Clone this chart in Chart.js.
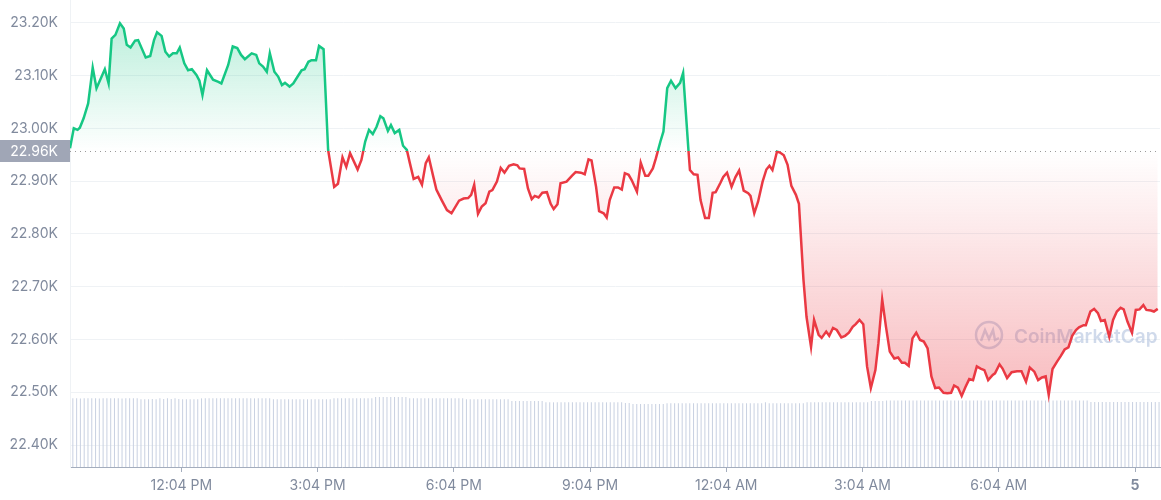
<!DOCTYPE html>
<html>
<head>
<meta charset="utf-8">
<script src="https://cdn.jsdelivr.net/npm/chart.js@4/dist/chart.umd.min.js"></script>
<style>
  html, body { margin: 0; padding: 0; background: #fff; }
  canvas { display: block; }
</style>
</head>
<body>
<canvas id="priceChart" width="1161" height="500"></canvas>
<script>
// minutes after 9:37 AM, price in USD
const minutes = [
  0,5,10,13,18,24,30,35,46,51,55,60,66,71,75,80,86,90,100,106,
  111,115,121,126,131,136,141,145,151,156,161,167,171,175,181,189,196,200,209,215,
  221,226,231,240,246,250,255,260,264,270,275,280,284,290,295,302,306,310,315,319,
  325,329,335,341,349,354,360,365,370,380,385,390,395,400,405,410,414,420,424,429,
  435,440,445,449,454,460,465,470,474,480,484,491,498,504,514,520,526,530,534,539,
  544,549,554,558,564,569,574,580,586,591,594,600,605,610,614,619,624,630,635,639,
  644,648,656,663,668,675,680,685,689,695,699,705,709,713,719,724,729,733,738,742,
  749,754,760,764,770,774,780,784,789,794,800,806,810,817,819,824,829,833,839,844,
  849,853,859,863,868,874,879,884,890,896,899,904,909,915,920,924,928,934,938,943,
  948,953,959,963,969,973,979,983,989,993,999,1003,1008,1013,1019,1024,1029,1034,1038,1043,
  1048,1053,1058,1064,1068,1073,1078,1083,1089,1094,1099,1103,1108,1113,1118,1123,1128,1133,1138,1143,
  1148,1154,1159,1164,1168,1173,1178,1183,1188,1193,1198,1203,1208,1213,1219,1222,1228,1232,1238,1244,
  1251,1257,1263,1268,1274,1279,1284,1289,1293,1298,1304,1309,1314,1319,1324,1329,1333,1339,1342,1348,
  1353,1358,1362,1367,1373,1378,1383,1388,1392,1397,1403,1408,1413,1418,1422,1428,1432,1437
];
const prices = [
  22962,23000,22997,23001,23019,23047,23115,23076,23112,23085,23170,23177,23199,23189,23158,23153,23166,23167,23134,23137,
  23167,23182,23175,23145,23136,23142,23142,23153,23123,23110,23112,23101,23090,23063,23110,23092,23088,23085,23120,23155,
  23152,23139,23131,23142,23139,23123,23117,23107,23142,23107,23098,23082,23086,23079,23085,23101,23110,23112,23126,23129,
  23129,23156,23150,22959,22889,22895,22945,22927,22953,22922,22940,22975,22997,22989,23003,23023,23019,22995,23006,22991,
  22997,22967,22959,22934,22904,22908,22893,22934,22945,22908,22884,22864,22845,22839,22863,22867,22868,22874,22893,22838,
  22852,22858,22880,22883,22899,22925,22916,22929,22932,22930,22924,22923,22886,22866,22872,22869,22878,22879,22857,22847,
  22856,22896,22899,22910,22917,22916,22913,22941,22939,22889,22843,22839,22831,22864,22888,22888,22884,22915,22912,22902,
  22880,22935,22910,22910,22924,22943,22975,22994,23076,23090,23076,23086,23105,22959,22921,22913,22912,22864,22830,22830,
  22878,22879,22896,22908,22916,22889,22907,22920,22882,22877,22872,22839,22861,22899,22922,22929,22921,22956,22954,22949,
  22931,22891,22874,22857,22713,22643,22586,22637,22609,22603,22615,22607,22622,22618,22604,22607,22613,22624,22629,22637,
  22629,22549,22508,22542,22593,22676,22624,22577,22564,22566,22556,22556,22550,22602,22613,22599,22596,22583,22530,22508,
  22509,22499,22498,22499,22513,22509,22493,22510,22525,22523,22549,22545,22542,22523,22533,22536,22553,22545,22527,22538,
  22540,22540,22520,22547,22539,22523,22528,22530,22495,22544,22558,22569,22581,22585,22607,22618,22623,22627,22627,22653,
  22658,22650,22635,22637,22605,22637,22653,22660,22657,22634,22613,22656,22657,22665,22656,22655,22653,22658
];
// 5-minute volume bars (billions)
const volumes = [
  29.4,29.4,29.3,29.4,29.4,29.4,29.4,29.3,29.4,29.4,29.4,29.4,29.4,29.3,29.4,29.4,29.4,29.4,
  29.0,29.0,29.0,29.1,29.0,
  29.4,29.1,29.4,29.1,29.4,29.1,
  29.0,29.0,29.0,29.0,29.0,
  29.4,29.4,29.4,29.4,29.4,29.4,29.4,29.4,29.4,29.4,29.4,29.4,29.4,29.4,29.4,29.4,29.4,29.4,29.4,
  29.0,29.0,29.0,29.0,29.0,29.0,29.0,29.0,29.0,29.0,29.0,29.0,29.0,29.0,29.0,29.0,
  29.4,29.4,29.4,29.4,29.4,29.4,29.4,29.4,29.4,29.4,29.4,
  30.0,30.0,30.0,30.0,30.0,30.0,30.0,30.0,30.0,
  29.4,29.4,29.4,29.4,29.4,29.4,29.4,29.4,29.4,29.4,29.4,29.4,29.4,29.4,29.4,
  29.0,29.0,29.0,29.0,29.0,29.0,29.0,29.0,29.0,29.0,29.0,29.0,
  28.3,28.3,28.3,28.3,28.3,28.3,28.3,28.3,28.3,
  27.7,27.7,27.7,27.7,27.7,27.7,27.7,27.7,27.7,27.7,27.7,27.7,27.7,27.7,27.7,27.7,27.7,27.7,27.7,27.7,27.7,
  27.4,27.4,
  27.0,27.0,27.0,27.0,27.0,27.0,27.0,27.0,27.0,
  27.3,27.3,27.3,27.3,27.3,27.3,27.3,27.3,27.3,27.3,27.3,27.3,27.3,27.3,27.3,27.3,27.3,27.3,27.3,27.3,27.3,27.3,27.3,27.3,27.3,27.3,
  27.7,
  27.3,27.3,27.3,27.3,27.3,27.3,27.3,27.3,27.3,27.3,
  27.7,27.7,27.7,27.7,27.7,27.7,27.7,27.7,27.7,27.7,27.7,27.7,27.7,27.7,27.7,27.7,27.7,
  28.3,28.3,28.3,28.3,
  28.5,28.5,28.5,28.5,28.5,28.5,28.5,28.5,28.5,28.5,28.5,28.5,28.5,28.5,28.5,28.5,28.5,28.5,
  28.5,28.5,28.5,28.5,28.5,28.5,28.5,28.5,28.5,28.5,28.5,28.5,28.5,28.5,28.5,28.5,28.5,28.5,
  28.5,28.5,28.5,28.5,28.5,28.5,28.5,28.5,28.5,28.5,28.5,28.5,28.5,28.5,28.5,28.5,28.5,28.5,
  27.8,27.8,27.8,27.8,27.8,27.8,27.8,27.8,27.8,27.8,27.8,27.8,27.8,27.8,27.8,27.8,27.8,27.8,27.8
];
const tickMinutes = [147, 327, 507, 687, 867, 1047, 1227, 1407];
const tickLabels = ['12:04 PM', '3:04 PM', '6:04 PM', '9:04 PM', '12:04 AM', '3:04 AM', '6:04 AM', '5'];
const yTicks = [22400, 22500, 22600, 22700, 22800, 22900, 23000, 23100, 23200];
const baseline = 22957;
const baselineLabel = '22.96K';

const GREEN = '#16c784';
const RED = '#ea3943';
const GREY = '#808a9d';
const FONT = 'Inter, "Noto Sans", sans-serif';

function baseFraction(chart) {
    const area = chart.chartArea;
    const y = chart.scales.y.getPixelForValue(baseline);
    return Math.min(1, Math.max(0, (y - area.top) / (area.bottom - area.top)));
}

// Line is green above the opening price, red below
function lineColor(c) {
    const chart = c.chart;
    const area = chart.chartArea;
    if (!area) return GREEN;
    const f = baseFraction(chart);
    const g = chart.ctx.createLinearGradient(0, area.top, 0, area.bottom);
    g.addColorStop(0, GREEN);
    g.addColorStop(f, GREEN);
    g.addColorStop(f, RED);
    g.addColorStop(1, RED);
    return g;
}

function areaColor(c) {
    const chart = c.chart;
    const area = chart.chartArea;
    if (!area) return 'rgba(22,199,132,0.2)';
    const f = baseFraction(chart);
    const g = chart.ctx.createLinearGradient(0, area.top, 0, area.bottom);
    g.addColorStop(0, 'rgba(22,199,132,0.34)');
    g.addColorStop(f, 'rgba(22,199,132,0.0)');
    g.addColorStop(f, 'rgba(234,57,67,0.0)');
    g.addColorStop(1, 'rgba(234,57,67,0.44)');
    return g;
}

const baselinePlugin = {
    id: 'baselinePlugin',
    beforeDatasetsDraw(chart) {
        const { ctx, chartArea } = chart;
        const y = Math.round(chart.scales.y.getPixelForValue(baseline)) + 0.5;

        // watermark
        ctx.save();
        const cx = chartArea.right - 171, cy = 335;
        ctx.strokeStyle = 'rgba(150,172,210,0.45)';
        ctx.lineWidth = 2.5;
        ctx.beginPath();
        ctx.arc(cx, cy, 13, 0, Math.PI * 2);
        ctx.stroke();
        ctx.beginPath();
        ctx.moveTo(cx - 8, cy + 6);
        ctx.lineTo(cx - 4, cy - 5);
        ctx.lineTo(cx, cy + 4);
        ctx.lineTo(cx + 4, cy - 5);
        ctx.lineTo(cx + 6, cy + 5);
        ctx.lineTo(cx + 10, cy + 3);
        ctx.stroke();
        ctx.fillStyle = 'rgba(150,172,210,0.45)';
        ctx.font = '600 19px ' + FONT;
        ctx.textBaseline = 'middle';
        ctx.textAlign = 'left';
        ctx.fillText('CoinMarketCap', cx + 25, cy + 2);
        ctx.restore();

        // dotted opening price line
        ctx.save();
        ctx.strokeStyle = '#9a9a9a';
        ctx.lineWidth = 1;
        ctx.setLineDash([1, 4]);
        ctx.beginPath();
        ctx.moveTo(chartArea.left, y);
        ctx.lineTo(chartArea.right, y);
        ctx.stroke();
        ctx.restore();
    },
    afterDraw(chart) {
        const { ctx, chartArea } = chart;
        const y = chart.scales.y.getPixelForValue(baseline);
        ctx.save();
        ctx.fillStyle = '#a0a6b6';
        ctx.fillRect(0, Math.round(y) - 11, chartArea.left, 22);
        ctx.fillStyle = '#ffffff';
        ctx.font = '14px ' + FONT;
        ctx.textAlign = 'right';
        ctx.textBaseline = 'middle';
        ctx.fillText(baselineLabel, chartArea.left - 12, y + 0.5);
        ctx.restore();
    }
};

new Chart(document.getElementById('priceChart'), {
    type: 'line',
    data: {
        datasets: [
            {
                label: 'Price',
                data: minutes.map((m, i) => ({ x: m, y: prices[i] })),
                borderColor: lineColor,
                backgroundColor: areaColor,
                borderWidth: 2.5,
                pointRadius: 0,
                tension: 0,
                fill: { target: { value: baseline } },
                xAxisID: 'x',
                yAxisID: 'y',
                order: 1
            },
            {
                type: 'bar',
                label: 'Volume',
                data: volumes,
                backgroundColor: '#cad2e2',
                barPercentage: 0.55,
                categoryPercentage: 1,
                xAxisID: 'xv',
                yAxisID: 'yv',
                order: 2
            }
        ]
    },
    options: {
        responsive: false,
        animation: false,
        layout: { padding: { top: 0, right: 1, bottom: 0, left: 0 } },
        plugins: {
            legend: { display: false },
            tooltip: { enabled: false }
        },
        scales: {
            x: {
                type: 'linear',
                min: 0,
                max: 1440,
                afterBuildTicks: (scale) => { scale.ticks = tickMinutes.map(v => ({ value: v })); },
                afterFit: (scale) => { scale.height = 33; },
                ticks: {
                    autoSkip: false,
                    maxRotation: 0,
                    padding: 5,
                    color: GREY,
                    font: (c) => ({ family: FONT, size: 14, weight: tickLabels[c.index] === '5' ? 'bold' : 'normal' }),
                    callback: (v, i) => tickLabels[i]
                },
                grid: { display: true, drawOnChartArea: false, drawTicks: true, tickLength: 5, color: '#a4adbd' },
                border: { display: true, color: '#a4adbd', width: 1 }
            },
            xv: {
                type: 'category',
                labels: volumes.map((v, i) => String(i)),
                offset: true,
                display: false
            },
            y: {
                min: 22358.5,
                max: 23243,
                position: 'left',
                afterBuildTicks: (scale) => { scale.ticks = yTicks.map(v => ({ value: v })); },
                afterFit: (scale) => {
                    scale.width = 70;
                    scale.paddingTop = 0;
                    scale.paddingBottom = 0;
                },
                ticks: {
                    padding: 12,
                    color: GREY,
                    font: { family: FONT, size: 14 },
                    callback: (v) => (v / 1000).toFixed(2) + 'K'
                },
                grid: { color: '#eff2f5', drawTicks: false },
                border: { display: true, color: '#eff2f5' }
            },
            yv: {
                min: 0,
                max: 200,
                display: false
            }
        }
    },
    plugins: [baselinePlugin]
});
</script>
</body>
</html>
